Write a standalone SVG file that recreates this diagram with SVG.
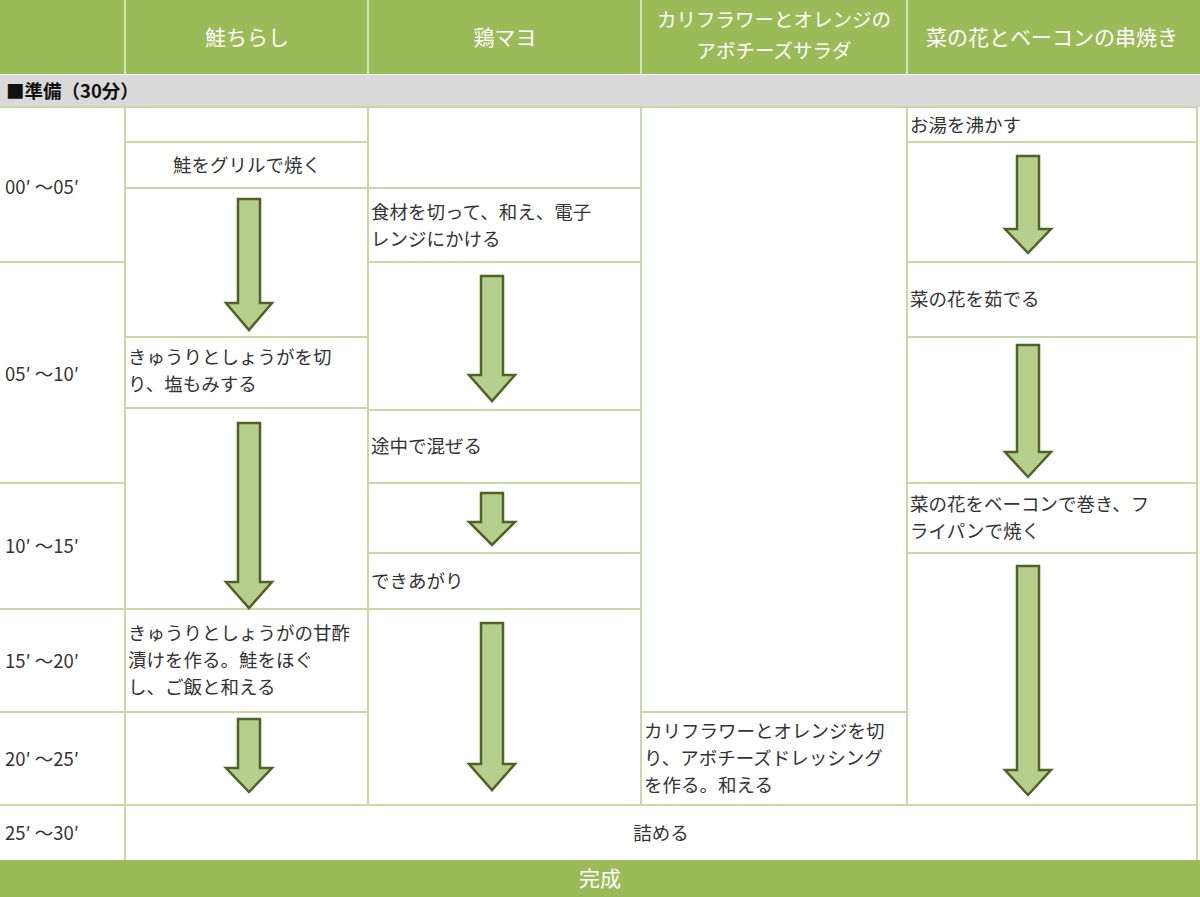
<svg xmlns="http://www.w3.org/2000/svg" width="1200" height="897" viewBox="0 0 1200 897">
<style>
text{font-family:"Noto Sans CJK JP","Liberation Sans",sans-serif;font-size:18.5px;fill:#333}
.h{fill:#fff;font-size:21px;text-anchor:middle}
.h2{font-size:19.5px}
.c{text-anchor:middle}
.g{stroke:#c9d9a6;stroke-width:2;fill:none}
.ar{fill:#b7cf8c;stroke:#4f6228;stroke-width:2.5}
</style>
<rect width="1200" height="897" fill="#fff"/>
<g id="header">
<rect x="0" y="0" width="1200" height="74" fill="#9bbb59"/>
<g stroke="#d4e3b5" stroke-width="2"><line x1="125" y1="0" x2="125" y2="74"/><line x1="368" y1="0" x2="368" y2="74"/><line x1="641" y1="0" x2="641" y2="74"/><line x1="907" y1="0" x2="907" y2="74"/></g>
<text class="h" x="247" y="45">鮭ちらし</text>
<text class="h" x="505" y="45">鶏マヨ</text>
<text class="h h2" x="774" y="27">カリフラワーとオレンジの</text>
<text class="h h2" x="774" y="58">アボチーズサラダ</text>
<text class="h" x="1052" y="45">菜の花とベーコンの串焼き</text>
</g>
<g id="band"><rect x="0" y="75" width="1200" height="32" fill="#d9d9d9"/><text x="6" y="98" style="fill:#111;font-weight:bold">■準備（30分）</text></g>
<g id="grid" class="g">
<line x1="0" y1="107" x2="1197" y2="107"/>
<line x1="1197" y1="107" x2="1197" y2="860"/>
<line x1="125" y1="107" x2="125" y2="860"/>
<line x1="368" y1="107" x2="368" y2="805"/>
<line x1="641" y1="107" x2="641" y2="805"/>
<line x1="907" y1="107" x2="907" y2="805"/>
<line x1="0" y1="262" x2="125" y2="262"/><line x1="0" y1="483" x2="125" y2="483"/><line x1="0" y1="609" x2="125" y2="609"/><line x1="0" y1="712" x2="125" y2="712"/><line x1="0" y1="805" x2="1197" y2="805"/>
<line x1="125" y1="142" x2="368" y2="142"/><line x1="125" y1="188" x2="368" y2="188"/><line x1="125" y1="337" x2="368" y2="337"/><line x1="125" y1="408" x2="368" y2="408"/><line x1="125" y1="609" x2="368" y2="609"/><line x1="125" y1="712" x2="368" y2="712"/>
<line x1="368" y1="188" x2="641" y2="188"/><line x1="368" y1="262" x2="641" y2="262"/><line x1="368" y1="410" x2="641" y2="410"/><line x1="368" y1="483" x2="641" y2="483"/><line x1="368" y1="553" x2="641" y2="553"/><line x1="368" y1="609" x2="641" y2="609"/>
<line x1="641" y1="712" x2="907" y2="712"/>
<line x1="907" y1="142" x2="1197" y2="142"/><line x1="907" y1="262" x2="1197" y2="262"/><line x1="907" y1="337" x2="1197" y2="337"/><line x1="907" y1="483" x2="1197" y2="483"/><line x1="907" y1="553" x2="1197" y2="553"/>
</g>
<g id="times">
<text x="5" y="194">00′ ～05′</text>
<text x="5" y="381">05′ ～10′</text>
<text x="5" y="553">10′ ～15′</text>
<text x="5" y="668">15′ ～20′</text>
<text x="5" y="766">20′ ～25′</text>
<text x="5" y="840">25′ ～30′</text>
</g>
<g id="steps">
<text class="c" x="247" y="172">鮭をグリルで焼く</text>
<text x="128" y="364">きゅうりとしょうがを切</text><text x="128" y="391">り、塩もみする</text>
<text x="128" y="640">きゅうりとしょうがの甘酢</text><text x="128" y="667">漬けを作る。鮭をほぐ</text><text x="128" y="694">し、ご飯と和える</text>
<text x="371" y="219">食材を切って、和え、電子</text><text x="371" y="246">レンジにかける</text>
<text x="371" y="453">途中で混ぜる</text>
<text x="371" y="588">できあがり</text>
<text x="644" y="738">カリフラワーとオレンジを切</text><text x="644" y="765">り、アボチーズドレッシング</text><text x="644" y="792">を作る。和える</text>
<text x="910" y="132">お湯を沸かす</text>
<text x="910" y="306">菜の花を茹でる</text>
<text x="910" y="511">菜の花をベーコンで巻き、フ</text><text x="910" y="538">ライパンで焼く</text>
<text class="c" x="661" y="840">詰める</text>
</g>
<g id="arrows" class="ar">
<path d="M238,199 H260 V303 H272 L249,330 L226,303 H238 Z"/>
<path d="M238,423 H260 V582 H272 L249,608 L226,582 H238 Z"/>
<path d="M238,719 H260 V768 H272 L249,792 L226,768 H238 Z"/>
<path d="M481,276 H503 V375 H515 L492,401 L469,375 H481 Z"/>
<path d="M481,493 H503 V522 H515 L492,545 L469,522 H481 Z"/>
<path d="M481,623 H503 V764 H515 L492,790 L469,764 H481 Z"/>
<path d="M1017,156 H1039 V229 H1051 L1028,253 L1005,229 H1017 Z"/>
<path d="M1017,345 H1039 V452 H1051 L1028,477 L1005,452 H1017 Z"/>
<path d="M1017,566 H1039 V770 H1051 L1028,795 L1005,770 H1017 Z"/>
</g>
<g id="footer"><rect x="0" y="860" width="1200" height="37" fill="#9bbb59"/><text class="h" x="600" y="886">完成</text></g>
</svg>
